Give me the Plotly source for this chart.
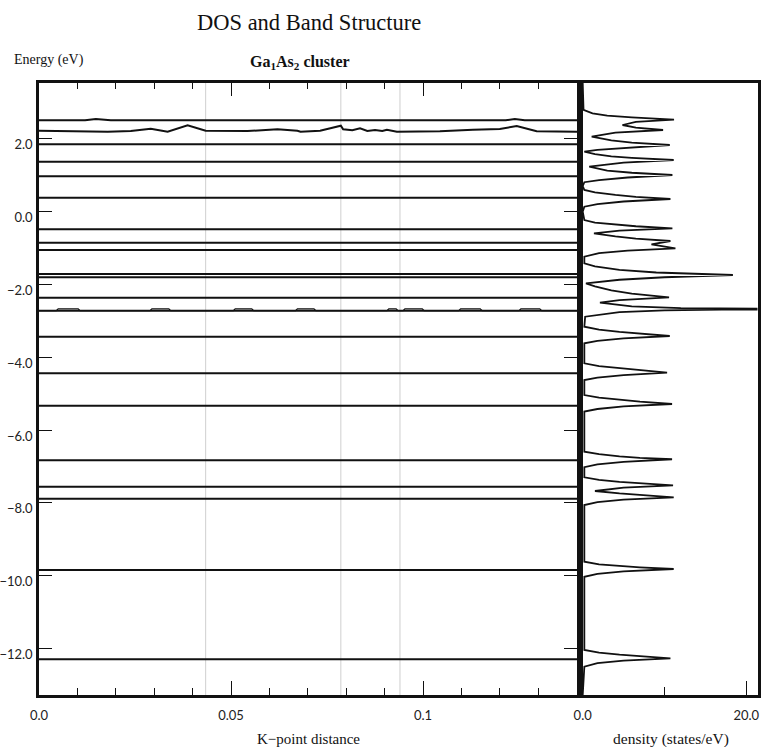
import plotly.graph_objects as go

# ---------------- data ----------------
K_MAX = 0.1401
E_MIN, E_MAX = -13.277, 3.544
DOS_MAX = 21.38

# high-symmetry k-points (light grey verticals)
sym_k = [0.0434, 0.0786, 0.0940]

# flat bands (eV)
flat_bands = [1.852, 1.374, 0.973, 0.385, -0.484, -0.852, -1.052, -1.712, -1.802,
              -2.363, -2.720, -3.434, -4.440, -5.330, -6.830, -7.555, -7.885,
              -9.840, -12.295]

# dispersive bands
bandA_k = [0.0, 0.0120, 0.0148, 0.0187, 0.1215, 0.1239, 0.1265, K_MAX]
bandA_E = [2.511, 2.511, 2.548, 2.511, 2.511, 2.548, 2.511, 2.511]

bandB_k = [0.0, 0.0065, 0.0179, 0.0239, 0.0291, 0.0335, 0.0387, 0.0434, 0.0543,
           0.0621, 0.0673, 0.0681, 0.0732, 0.0786, 0.0792, 0.0816, 0.0836, 0.0855,
           0.0875, 0.0894, 0.0906, 0.0932, 0.1044, 0.1130, 0.1200, 0.1244, 0.1296,
           K_MAX]
bandB_E = [2.225, 2.217, 2.198, 2.217, 2.280, 2.198, 2.374, 2.225, 2.217,
           2.264, 2.225, 2.198, 2.225, 2.363, 2.264, 2.236, 2.291, 2.217,
           2.245, 2.217, 2.253, 2.198, 2.209, 2.253, 2.272, 2.354, 2.209,
           2.198]

bandC_k = [0.0, 0.0045, 0.0050, 0.0102, 0.0107, 0.0289, 0.0294, 0.0338, 0.0343,
           0.0506, 0.0511, 0.0554, 0.0559, 0.0668, 0.0673, 0.0716, 0.0721,
           0.0906, 0.0911, 0.0930, 0.0935, 0.0948, 0.0953, 0.0998, 0.1003,
           0.1093, 0.1098, 0.1149, 0.1154, 0.1250, 0.1255, 0.1304, 0.1309, K_MAX]
bandC_E = [-2.720, -2.720, -2.670, -2.670, -2.720, -2.720, -2.670, -2.670, -2.720,
           -2.720, -2.670, -2.670, -2.720, -2.720, -2.670, -2.670, -2.720,
           -2.720, -2.670, -2.670, -2.720, -2.720, -2.670, -2.670, -2.720,
           -2.720, -2.670, -2.670, -2.720, -2.720, -2.670, -2.670, -2.720, -2.720]

# density of states trace (energy, density)
dos_E = [3.544, 2.80, 2.70, 2.64, 2.59, 2.527, 2.47, 2.382, 2.31, 2.245, 2.17, 2.06,
         1.96, 1.90, 1.832, 1.76, 1.70, 1.648, 1.58, 1.52, 1.48, 1.42, 1.35, 1.236,
         1.13, 1.07, 1.008, 0.94, 0.87, 0.81, 0.70, 0.60, 0.53, 0.46, 0.41, 0.349,
         0.28, 0.21, 0.137, 0.0, -0.228, -0.30, -0.36, -0.40, -0.456, -0.52, -0.593,
         -0.68, -0.74, -0.805, -0.896, -1.005, -1.07, -1.14, -1.236, -1.42, -1.50,
         -1.60, -1.67, -1.739, -1.80, -1.87, -1.967, -2.05, -2.16, -2.25, -2.352,
         -2.43, -2.50, -2.60, -2.65, -2.672, -2.680, -2.688, -2.71, -2.76, -2.885,
         -3.16, -3.24, -3.30, -3.35, -3.415, -3.48, -3.55, -3.615,
         -4.165, -4.24, -4.30, -4.36, -4.423, -4.49, -4.56, -4.624,
         -5.036, -5.11, -5.17, -5.22, -5.283, -5.35, -5.42, -5.49,
         -6.593, -6.66, -6.72, -6.76, -6.80, -6.87, -6.94, -7.02,
         -7.297, -7.37, -7.42, -7.46, -7.516, -7.58, -7.673, -7.74, -7.78, -7.846,
         -7.91, -7.98, -8.058,
         -9.615, -9.69, -9.74, -9.77, -9.816, -9.88, -9.95, -10.03,
         -12.04, -12.11, -12.17, -12.21, -12.27, -12.33, -12.40, -12.50, -13.277]
dos_D = [0.0, 0.1, 1.2, 3.0, 6.0, 11.17, 6.5, 4.87, 6.5, 9.83, 4.0, 1.10,
         3.5, 6.0, 10.65, 5.0, 1.8, 0.2, 1.5, 3.5, 6.0, 11.13, 5.0, 0.8,
         3.0, 6.0, 10.97, 5.5, 2.0, 0.2, 0.0, 0.2, 1.5, 4.0, 6.5, 10.73,
         5.0, 1.8, 0.2, 0.0, 0.2, 1.5, 4.0, 6.5, 10.97, 4.5, 1.38,
         4.0, 6.5, 10.73, 8.41, 11.34, 5.5, 2.0, 0.2, 0.2, 1.5,
         4.5, 9.0, 18.37, 10.0, 4.5, 0.4, 1.5, 3.5, 6.0, 10.56,
         4.5, 2.11, 6.0, 12.0, 17.0, 40.0, 17.0, 10.0, 4.5, 0.3,
         0.2, 2.0, 4.5, 7.0, 10.65, 5.0, 1.8, 0.2,
         0.2, 2.0, 4.5, 7.0, 10.32, 5.0, 1.8, 0.2,
         0.2, 2.0, 4.5, 7.0, 10.93, 5.0, 1.8, 0.2,
         0.2, 2.0, 4.5, 7.0, 10.93, 5.0, 1.8, 0.2,
         0.2, 2.0, 4.5, 7.0, 11.05, 5.0, 1.5, 4.5, 7.0, 11.13,
         5.0, 1.8, 0.2,
         0.2, 2.0, 4.5, 7.0, 11.13, 5.0, 1.8, 0.2,
         0.2, 2.0, 4.5, 7.0, 10.73, 5.0, 1.8, 0.2, 0.0]

k_ticks = [0.0, 0.05, 0.1]
k_tick_text = ["0.0", "0.05", "0.1"]
dos_ticks = [0, 20]
dos_tick_text = ["0.0", "20.0"]

# ---------------- figure ----------------
W, H = 762, 747
LINE = "#111111"
SERIF = "Liberation Serif"
SANS = "Lato"

fig = go.Figure()

for e in flat_bands:
    fig.add_trace(go.Scatter(x=[0.0, K_MAX], y=[e, e], mode="lines",
                             line=dict(color=LINE, width=2), hoverinfo="skip",
                             showlegend=False, xaxis="x", yaxis="y"))
for bk, be, w in [(bandA_k, bandA_E, 2), (bandB_k, bandB_E, 2), (bandC_k, bandC_E, 1.3)]:
    fig.add_trace(go.Scatter(x=bk, y=be, mode="lines",
                             line=dict(color=LINE, width=w), hoverinfo="skip",
                             showlegend=False, xaxis="x", yaxis="y"))

fig.add_trace(go.Scatter(x=dos_D, y=dos_E, mode="lines",
                         line=dict(color=LINE, width=1.8), hoverinfo="skip",
                         showlegend=False, xaxis="x2", yaxis="y2"))

for k in sym_k:
    fig.add_shape(type="line", xref="x", yref="y domain", x0=k, x1=k, y0=0, y1=1,
                  line=dict(color="#cfcfcf", width=1), layer="below")

def px(x):
    return x / W

def py(y):
    return 1 - y / H

ydom = [py(695), py(82.7)]
tickfont = dict(family=SANS, size=13, color="#222222")

fig.update_layout(
    width=W, height=H, autosize=False,
    margin=dict(l=0, r=0, t=0, b=0, autoexpand=False),
    paper_bgcolor="white", plot_bgcolor="white",
    showlegend=False,
    xaxis=dict(domain=[px(39), px(577)], range=[0, K_MAX], automargin=False,
               tickvals=k_ticks, ticktext=k_tick_text,
               ticks="inside", ticklen=14, tickwidth=1.2, tickcolor=LINE,
               minor=dict(dtick=0.01, tick0=0, ticks="inside", ticklen=7,
                          tickwidth=1.2, tickcolor=LINE),
               showline=True, linewidth=2.5, linecolor=LINE, mirror="ticks",
               showgrid=False, zeroline=False, tickfont=tickfont,
               ticklabelstandoff=7, anchor="y"),
    yaxis=dict(domain=ydom, range=[E_MIN, E_MAX], dtick=2, tick0=0,
               tickformat=".1f", automargin=False,
               ticks="inside", ticklen=13, tickwidth=1.2, tickcolor=LINE,
               showline=True, linewidth=2.5, linecolor=LINE, mirror="ticks",
               showgrid=False, zeroline=False, tickfont=tickfont,
               ticklabelshift=6, ticklabelstandoff=1, anchor="x"),
    xaxis2=dict(domain=[px(582.7), px(757.5)], range=[0, DOS_MAX], automargin=False,
                tickvals=dos_ticks, ticktext=dos_tick_text,
                ticks="inside", ticklen=14, tickwidth=1.2, tickcolor=LINE,
                minor=dict(tickvals=[10], ticks="inside", ticklen=8,
                           tickwidth=1.2, tickcolor=LINE),
                showline=True, linewidth=2.5, linecolor=LINE, mirror=True,
                showgrid=False, zeroline=False, tickfont=tickfont,
                ticklabelstandoff=7, anchor="y2"),
    yaxis2=dict(domain=ydom, range=[E_MIN, E_MAX], showticklabels=False,
                automargin=False,
                ticks="", showline=True, linewidth=2.5, linecolor=LINE,
                mirror=True, showgrid=False, zeroline=False, anchor="x2"),
)

annotations = [
    dict(text="DOS and Band Structure", x=px(309), y=py(22), xanchor="center",
         yanchor="middle", font=dict(family=SERIF, size=22.5, color="#111")),
    dict(text="Energy (eV)", x=px(12), y=py(60), xanchor="left", yanchor="middle",
         font=dict(family=SERIF, size=14, color="#111")),
    dict(text="<b>Ga<sub>1</sub>As<sub>2</sub> cluster</b>", x=px(300), y=py(62),
         xanchor="center", yanchor="middle",
         font=dict(family=SERIF, size=16, color="#111")),
    dict(text="K\u2212point distance", x=px(308), y=py(739), xanchor="center",
         yanchor="middle", font=dict(family=SERIF, size=15, color="#111")),
    dict(text="density (states/eV)", x=px(671), y=py(739), xanchor="center",
         yanchor="middle", font=dict(family=SERIF, size=15.5, color="#111")),
]
for a in annotations:
    a.update(xref="paper", yref="paper", showarrow=False)
fig.update_layout(annotations=annotations)

fig.write_html("out.html", config={"displayModeBar": False},
               post_script="document.body.style.margin='0';"
                           "document.body.style.overflow='hidden';")
